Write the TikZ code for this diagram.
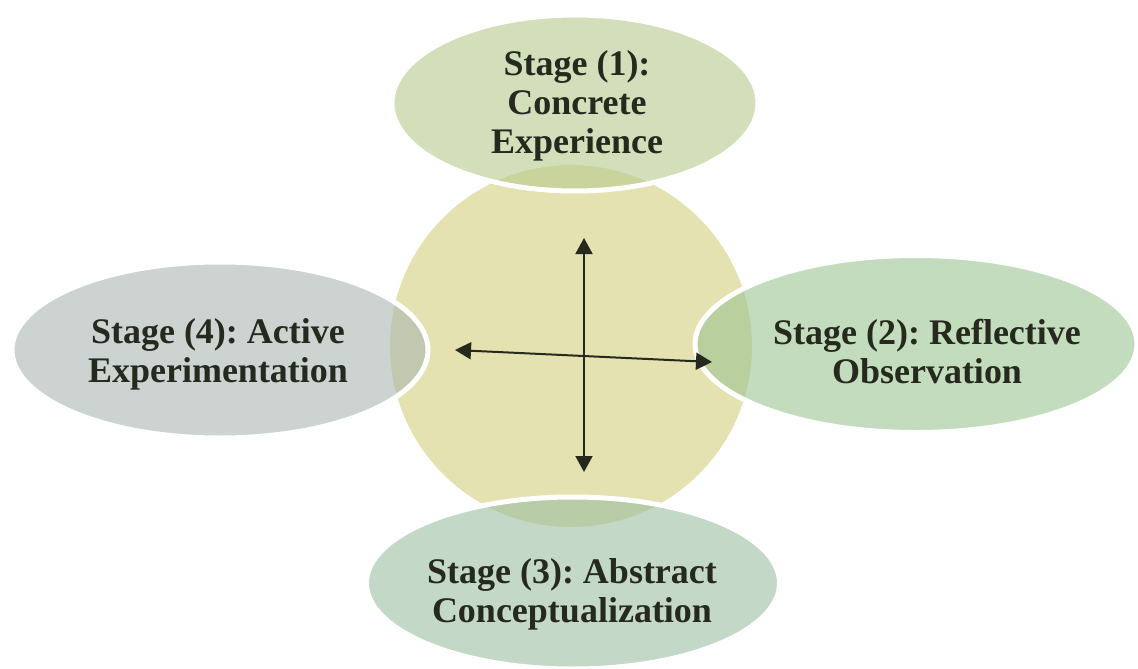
\documentclass[tikz,border=0pt]{standalone}
\usepackage{fontspec}
\setmainfont{Liberation Serif}
\usetikzlibrary{shapes.geometric,arrows.meta}
\definecolor{khaki}{RGB}{228,226,176}
\definecolor{cone}{RGB}{183,203,143}
\definecolor{ctwo}{RGB}{157,197,147}
\definecolor{cthree}{RGB}{157,190,163}
\definecolor{cfour}{RGB}{172,183,177}
\definecolor{ink}{RGB}{38,42,30}
\tikzset{
  hub/.style={circle, fill=khaki, draw=none, minimum size=362pt, inner sep=0pt},
  stage/.style={ellipse, draw=white, line width=5pt, fill opacity=0.6, inner sep=0pt},
  lbl/.style={align=center, text=ink, font=\fontsize{36}{39}\selectfont\bfseries\frenchspacing, inner sep=0pt},
  arr/.style={line width=2pt, draw=ink, {Triangle[length=16pt,width=17pt]}-{Triangle[length=16pt,width=17pt]}}
}
\begin{document}
\begin{tikzpicture}[x=1pt,y=-1pt]
\useasboundingbox (0,0) rectangle (1138,669);
\fill[white] (0,0) rectangle (1138,669);
\node[hub] (c) at (571,346) {};
\node[stage, fill=cone, minimum width=366pt, minimum height=176pt] (s1) at (575,103) {};
\node[stage, fill=ctwo, minimum width=442pt, minimum height=177pt] (s2) at (916,344) {};
\node[stage, fill=cthree, minimum width=413pt, minimum height=172pt] (s3) at (573,583) {};
\node[stage, fill=cfour, minimum width=416pt, minimum height=176pt] (s4) at (220,350) {};
\node[lbl] (t1) at (577,106) {Stage (1):\\Concrete\\Experience};
\node[lbl] (t2) at (927,351) {Stage (2): Reflective\\Observation};
\node[lbl] (t3) at (572,594) {Stage (3): Abstract\\Conceptualization};
\node[lbl] (t4) at (218,354) {Stage (4): Active\\Experimentation};
\coordinate (vt) at (584,238);
\coordinate (vb) at (584,472);
\coordinate (hl) at (455,350);
\coordinate (hr) at (712,362);
\draw[arr] (vb) -- (vt);
\draw[arr] (hl) -- (hr);
\end{tikzpicture}
\end{document}
